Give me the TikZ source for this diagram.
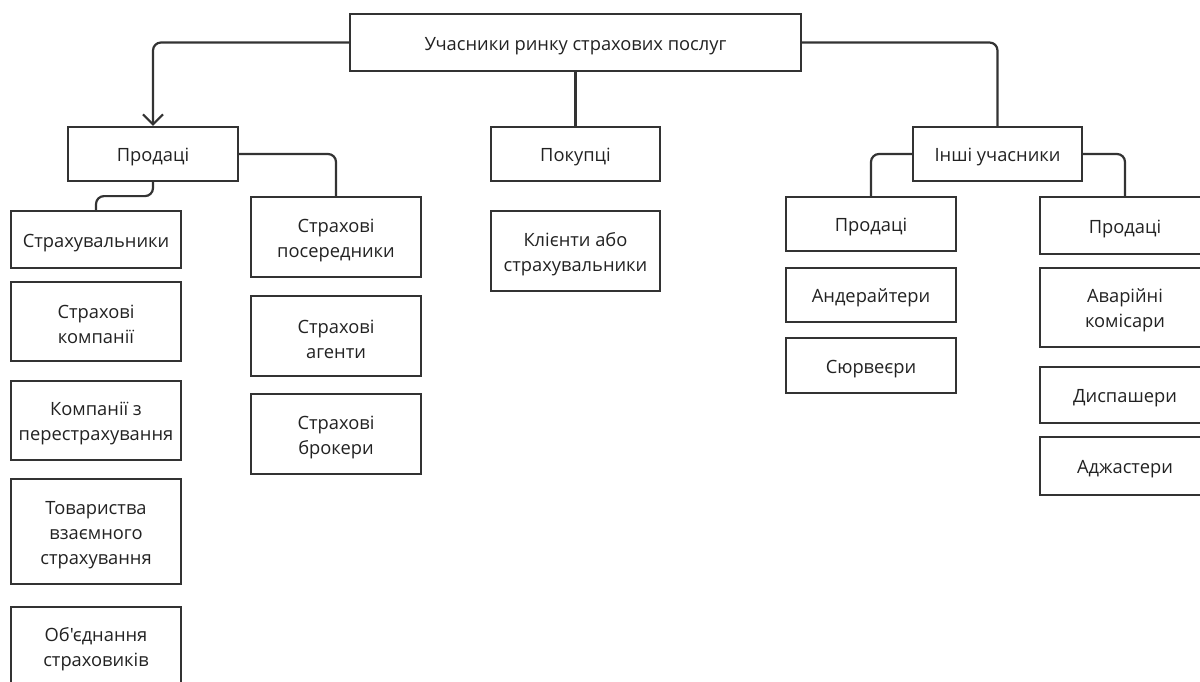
\documentclass[tikz,border=0pt]{standalone}
\usepackage{fontspec}
\newfontfamily\ofont{Open Sans}
\usetikzlibrary{arrows.meta}
\definecolor{linec}{HTML}{333333}
\definecolor{textc}{HTML}{222222}
\newcommand\firstline{\rule{0pt}{19.5pt}}
\begin{document}
\begin{tikzpicture}[x=1pt,y=-1pt,
  box/.style={draw=linec, line width=2.2pt, fill=white, align=center, text=textc,
    font=\ofont\fontsize{18.3}{25}\selectfont, inner sep=0pt,
    execute at begin node={\firstline}},
  conn/.style={draw=linec, line width=2.2pt, rounded corners=8pt},
  tip/.style={-{Straight Barb[length=10pt,width=20pt]}}]
\clip (0,0) rectangle (1200,681);
\fill[white] (0,0) rectangle (1200,681);
% level 0
\node[box, minimum width=451pt, minimum height=57pt] (top) at (575.5,42.5) {Учасники ринку страхових послуг};
% level 1
\node[box, minimum width=170pt, minimum height=54pt] (prod) at (153,154) {Продаці};
\node[box, minimum width=169pt, minimum height=54pt] (buy) at (575.5,154) {Покупці};
\node[box, minimum width=169pt, minimum height=54pt] (other) at (997.5,154) {Інші учасники};
% sellers column
\node[box, minimum width=170pt, minimum height=57pt] (s1) at (96,239.5) {Страхувальники};
\node[box, minimum width=170pt, minimum height=79pt] (s2) at (96,321.5) {\firstline Страхові\\компанії};
\node[box, minimum width=170pt, minimum height=79pt] (s3) at (96,420.5) {\firstline Компанії з\\перестрахування};
\node[box, minimum width=170pt, minimum height=105pt] (s4) at (96,531.5) {\firstline Товариства\\взаємного\\страхування};
\node[box, minimum width=170pt, minimum height=79pt] (s5) at (96,646.5) {\firstline Об'єднання\\страховиків};
% intermediaries column
\node[box, minimum width=170pt, minimum height=80pt] (m1) at (336,237) {\firstline Страхові\\посередники};
\node[box, minimum width=170pt, minimum height=80pt] (m2) at (336,336) {\firstline Страхові\\агенти};
\node[box, minimum width=170pt, minimum height=80pt] (m3) at (336,434) {\firstline Страхові\\брокери};
% buyers
\node[box, minimum width=169pt, minimum height=80pt] (c1) at (575.5,251) {\firstline Клієнти або\\страхувальники};
% others left
\node[box, minimum width=170pt, minimum height=54pt] (o1) at (871,224) {Продаці};
\node[box, minimum width=170pt, minimum height=54pt] (o2) at (871,295) {Андерайтери};
\node[box, minimum width=170pt, minimum height=55pt] (o3) at (871,365.5) {Сюрвеєри};
% others right
\node[box, minimum width=170pt, minimum height=57pt] (r1) at (1125,225.5) {Продаці};
\node[box, minimum width=170pt, minimum height=79pt] (r2) at (1125,307.5) {\firstline Аварійні\\комісари};
\node[box, minimum width=170pt, minimum height=56pt] (r3) at (1125,395) {Диспашери};
\node[box, minimum width=170pt, minimum height=58pt] (r4) at (1125,466) {Аджастери};
% connectors
\draw[conn, tip] (top.west) -| (prod.north);
\draw[conn] (top.south) -- (buy.north);
\draw[conn] (top.east) -| (other.north);
\draw[conn] (prod.east) -| (m1.north);
\draw[conn] (prod.south) -- ++(0,14) -| (s1.north);
\draw[conn] (other.west) -| (o1.north);
\draw[conn] (other.east) -| (r1.north);
\end{tikzpicture}
\end{document}
